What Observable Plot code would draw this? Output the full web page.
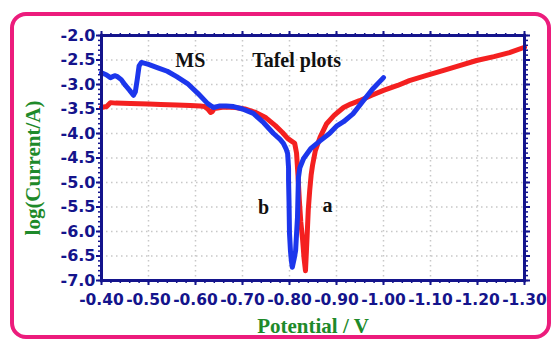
<!DOCTYPE html>
<html><head><meta charset="utf-8">
<script src="https://cdn.jsdelivr.net/npm/d3@7"></script>
<script src="https://cdn.jsdelivr.net/npm/@observablehq/plot@0.6"></script>
<style>
body{margin:0;background:#fff;}
#wrap{position:relative;width:552px;height:343px;overflow:hidden;background:#fff;}
#border{position:absolute;left:10px;top:12px;width:533px;height:319px;border:4px solid #ec1c7c;border-radius:16px;z-index:2;pointer-events:none;}
#chart{position:absolute;left:0;top:0;z-index:1;}
</style></head><body>
<div id="wrap"><div id="chart"></div><div id="border"></div></div>
<script>
// Curve a (red)
const redV = [-0.400,-0.405,-0.411,-0.419,-0.430,-0.462,-0.500,-0.526,-0.560,-0.589,-0.610,-0.619,-0.626,-0.632,-0.636,-0.640,-0.660,-0.685,-0.705,-0.728,-0.750,-0.770,-0.785,-0.796,-0.805,-0.811,-0.815,-0.818,-0.821,-0.824,-0.828,-0.831,-0.834,-0.836,-0.838,-0.840,-0.843,-0.846,-0.849,-0.855,-0.865,-0.879,-0.895,-0.915,-0.930,-0.949,-0.975,-1.000,-1.030,-1.055,-1.090,-1.128,-1.160,-1.198,-1.235,-1.268,-1.300];
const redLog = [-3.47,-3.46,-3.45,-3.37,-3.38,-3.39,-3.40,-3.41,-3.42,-3.43,-3.44,-3.45,-3.50,-3.57,-3.55,-3.49,-3.46,-3.47,-3.50,-3.57,-3.68,-3.84,-3.98,-4.10,-4.16,-4.20,-4.40,-4.85,-5.37,-5.80,-6.18,-6.55,-6.80,-6.40,-5.98,-5.55,-5.16,-4.85,-4.65,-4.35,-4.08,-3.80,-3.63,-3.47,-3.40,-3.33,-3.22,-3.12,-3.02,-2.92,-2.82,-2.71,-2.62,-2.51,-2.43,-2.35,-2.24];
// Curve b (blue)
const blueV = [-0.400,-0.410,-0.419,-0.428,-0.434,-0.442,-0.451,-0.460,-0.468,-0.472,-0.476,-0.480,-0.485,-0.500,-0.520,-0.540,-0.560,-0.583,-0.605,-0.626,-0.638,-0.650,-0.665,-0.681,-0.700,-0.723,-0.745,-0.766,-0.780,-0.787,-0.793,-0.796,-0.798,-0.798,-0.799,-0.800,-0.802,-0.804,-0.806,-0.810,-0.813,-0.815,-0.817,-0.819,-0.822,-0.830,-0.845,-0.865,-0.885,-0.900,-0.915,-0.935,-0.957,-0.978,-1.000];
const blueLog = [-2.76,-2.80,-2.86,-2.82,-2.84,-2.90,-3.02,-3.12,-3.22,-3.15,-2.90,-2.62,-2.55,-2.59,-2.66,-2.73,-2.84,-2.98,-3.18,-3.39,-3.47,-3.44,-3.44,-3.45,-3.50,-3.59,-3.78,-4.00,-4.12,-4.20,-4.32,-4.41,-4.70,-4.96,-5.40,-6.04,-6.39,-6.60,-6.73,-6.55,-6.39,-6.05,-5.71,-4.90,-4.70,-4.51,-4.31,-4.15,-4.00,-3.85,-3.76,-3.60,-3.33,-3.08,-2.86];
// Ticks
const xTicks = [-0.40,-0.50,-0.60,-0.70,-0.80,-0.90,-1.00,-1.10,-1.20,-1.30];
const yTicks = [-2.0,-2.5,-3.0,-3.5,-4.0,-4.5,-5.0,-5.5,-6.0,-6.5,-7.0];
const xMinor = d3.range(0, 46).map(i => -0.40 - i * 0.02);
const yMinor = d3.range(0, 51).map(i => -2.0 - i * 0.1);
// Annotations
const noteText = ["MS", "Tafel plots", "b", "a"];
const noteV = [-0.589, -0.815, -0.745, -0.881];
const noteLog = [-2.51, -2.51, -5.51, -5.47];

const red = redV.map((v, i) => ({v, y: redLog[i]}));
const blue = blueV.map((v, i) => ({v, y: blueLog[i]}));
const notes = noteText.map((t, i) => ({t, v: noteV[i], y: noteLog[i]}));

const navy = "#14148c";
const green = "#1e8a2a";
const serif = "'Liberation Serif','Times New Roman',serif";

const chart = Plot.plot({
  width: 552, height: 343,
  marginLeft: 101, marginRight: 28, marginTop: 35, marginBottom: 63,
  style: {fontFamily: "'DejaVu Sans', sans-serif", fontSize: "16px", fontWeight: "bold", color: navy, background: "transparent"},
  x: {domain: [-0.40, -1.30]},
  y: {domain: [-7, -2]},
  marks: [
    Plot.gridX(xTicks, {stroke: "#c8c8c8", strokeOpacity: 1, strokeWidth: 1.5, strokeDasharray: "1.5,3.5"}),
    Plot.gridY(yTicks, {stroke: "#c8c8c8", strokeOpacity: 1, strokeWidth: 1.5, strokeDasharray: "1.5,3.5"}),
    Plot.line(red, {x: "v", y: "y", stroke: "#f42020", strokeWidth: 5, strokeLinejoin: "round", strokeLinecap: "round"}),
    Plot.line(blue, {x: "v", y: "y", stroke: "#1c36ec", strokeWidth: 5, strokeLinejoin: "round", strokeLinecap: "round"}),
    Plot.text(notes, {x: "v", y: "y", text: "t", fontFamily: serif, fontSize: 20, fontWeight: "bold", fill: "#111"}),
    Plot.axisX(xMinor, {anchor: "bottom", tickSize: 3, strokeWidth: 1.5, tickFormat: () => "", label: null}),
    Plot.axisX(xMinor, {anchor: "top", tickSize: 3, strokeWidth: 1.5, tickFormat: () => "", label: null}),
    Plot.axisX(xTicks, {anchor: "top", tickSize: 5, strokeWidth: 2, tickFormat: () => "", label: null}),
    Plot.axisX(xTicks, {anchor: "bottom", tickSize: 5, strokeWidth: 2, tickPadding: 8, fontSize: 15.5, tickFormat: d => d.toFixed(2), label: null}),
    Plot.axisY(yMinor, {anchor: "left", tickSize: 3, strokeWidth: 1.5, tickFormat: () => "", label: null}),
    Plot.axisY(yMinor, {anchor: "right", tickSize: 3, strokeWidth: 1.5, tickFormat: () => "", label: null}),
    Plot.axisY(yTicks, {anchor: "right", tickSize: 5, strokeWidth: 2, tickFormat: () => "", label: null}),
    Plot.axisY(yTicks, {anchor: "left", tickSize: 5, strokeWidth: 2, tickPadding: 1, tickFormat: d => d.toFixed(1), label: null}),
    Plot.frame({stroke: navy, strokeWidth: 3}),
    Plot.text(["Potential / V"], {frameAnchor: "bottom", dy: 52, textAnchor: "middle", fontFamily: serif, fontSize: 21, fontWeight: "bold", fill: green}),
    Plot.text(["log(Current/A)"], {frameAnchor: "left", dx: -68, dy: 10, textAnchor: "middle", rotate: -90, fontFamily: serif, fontSize: 21, fontWeight: "bold", fill: green})
  ]
});
document.getElementById("chart").appendChild(chart);
</script>
</body></html>
